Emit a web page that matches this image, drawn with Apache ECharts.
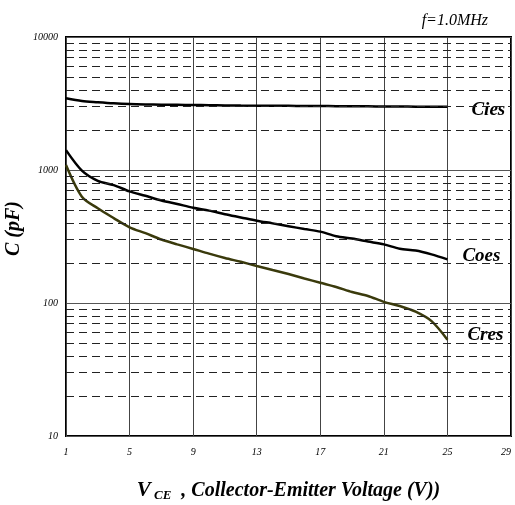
<!DOCTYPE html>
<html>
<head>
<meta charset="utf-8">
<style>
  html, body { margin: 0; padding: 0; background: #fff; }
  #chart { width: 515px; height: 505px; }
</style>
<script src="https://cdn.jsdelivr.net/npm/echarts@6/dist/echarts.min.js"></script>
</head>
<body>
<div id="chart"></div>
<script>
// 电容 - 电压曲线
var vce = [1, 2, 3, 4, 5, 6, 7, 8, 9, 10, 11, 12, 13, 14, 15, 16, 17, 18, 19, 20, 21, 22, 23, 24, 25];
var cies = [3460, 3300, 3230, 3170, 3130, 3110, 3100, 3090, 3080, 3070, 3060, 3050, 3045, 3040, 3035, 3030, 3025, 3020, 3015, 3010, 3005, 3000, 2995, 2990, 2990];
var coes = [1410, 990, 830, 770, 690, 640, 590, 555, 521, 495, 465, 440, 416, 397, 378, 360, 344, 318, 305, 290, 276, 256, 248, 232, 213];
var cres = [1090, 630, 515, 435, 371, 335, 300, 276, 255, 235, 218, 204, 190, 177, 165, 153, 142, 132, 121, 113, 102, 95, 86, 73, 53];
// 虚线网格 (2..9 每个十倍程)
var minorLines = [20, 30, 40, 50, 60, 70, 80, 90, 200, 300, 400, 500, 600, 700, 800, 900, 2000, 3000, 4000, 5000, 6000, 7000, 8000, 9000];

function pairs(ys) {
  return vce.map(function (x, i) { return [x, ys[i]]; });
}

var serif = "'Liberation Serif', 'DejaVu Serif', serif";

function endLabel(offset) {
  return {
    show: true,
    formatter: "{a}",
    distance: offset[0],
    offset: [0, offset[1]],
    fontFamily: serif,
    fontStyle: "italic",
    fontWeight: "bold",
    fontSize: 19,
    color: "#000",
  };
}

var myChart = echarts.init(document.getElementById("chart"));
var option = {
  animation: false,
  title: {
    text: "f=1.0MHz",
    right: 22,
    top: 8,
    textStyle: {
      fontFamily: serif,
      fontStyle: "italic",
      fontWeight: "normal",
      fontSize: 16,
      color: "#000",
    },
  },
  grid: {
    left: 66,
    right: 4,
    top: 37,
    bottom: 69,
    containLabel: false,
    outerBoundsMode: "none",
    show: true,
    borderColor: "#000",
    borderWidth: 2,
    backgroundColor: "transparent",
  },
  xAxis: {
    type: "value",
    min: 1,
    max: 29,
    interval: 4,
    name: "{v|V}{s| CE}{n|  , Collector-Emitter Voltage (V))}",
    nameLocation: "middle",
    nameGap: 43,
    nameTextStyle: {
      rich: {
        v: { fontFamily: serif, fontStyle: "italic", fontWeight: "bold", fontSize: 21, color: "#000" },
        s: { fontFamily: serif, fontStyle: "italic", fontWeight: "bold", fontSize: 13, color: "#000", padding: [10, 0, 0, 0] },
        n: { fontFamily: serif, fontStyle: "italic", fontWeight: "bold", fontSize: 20, color: "#000" },
      },
    },
    axisLine: { show: false },
    axisTick: { show: false },
    axisLabel: {
      margin: 11,
      fontFamily: serif,
      fontStyle: "italic",
      fontSize: 10,
      color: "#000",
      alignMaxLabel: "right",
    },
    splitLine: {
      show: true,
      lineStyle: { color: "#444", width: 1 },
    },
  },
  yAxis: {
    type: "log",
    logBase: 10,
    min: 10,
    max: 10000,
    name: "C (pF)",
    nameLocation: "middle",
    nameGap: 42,
    nameMoveOverlap: false,
    nameTextStyle: {
      fontFamily: serif,
      fontStyle: "italic",
      fontWeight: "bold",
      fontSize: 20,
      color: "#000",
      padding: [0, 0, 0, 16],
    },
    axisLine: { show: false },
    axisTick: { show: false },
    axisLabel: {
      margin: 8,
      fontFamily: serif,
      fontStyle: "italic",
      fontSize: 10,
      color: "#000",
      formatter: function (v) { return String(Math.round(v)); },
    },
    splitLine: {
      show: true,
      lineStyle: { color: "#555", width: 1 },
    },
  },
  series: [
    {
      // 虚线网格
      name: "grid",
      type: "line",
      data: [],
      silent: true,
      markLine: {
        silent: true,
        symbol: "none",
        label: { show: false },
        lineStyle: { color: "#222", width: 1, type: [8, 5] },
        data: minorLines.map(function (v) { return { yAxis: v }; }),
      },
    },
    {
      name: "Cies",
      type: "line",
      data: pairs(cies),
      smooth: 0.3,
      showSymbol: false,
      lineStyle: { color: "#000", width: 2.5 },
      endLabel: endLabel([24, 3]),
    },
    {
      name: "Coes",
      type: "line",
      data: pairs(coes),
      smooth: 0.3,
      showSymbol: false,
      lineStyle: { color: "#000", width: 2.5 },
      endLabel: endLabel([15, -3]),
    },
    {
      name: "Cres",
      type: "line",
      data: pairs(cres),
      smooth: 0.3,
      showSymbol: false,
      lineStyle: { color: "#3a3a0c", width: 2.5 },
      endLabel: endLabel([20, -5]),
    },
  ],
};
myChart.setOption(option);
window.addEventListener("resize", function () {
  myChart.resize();
});
</script>
</body>
</html>
